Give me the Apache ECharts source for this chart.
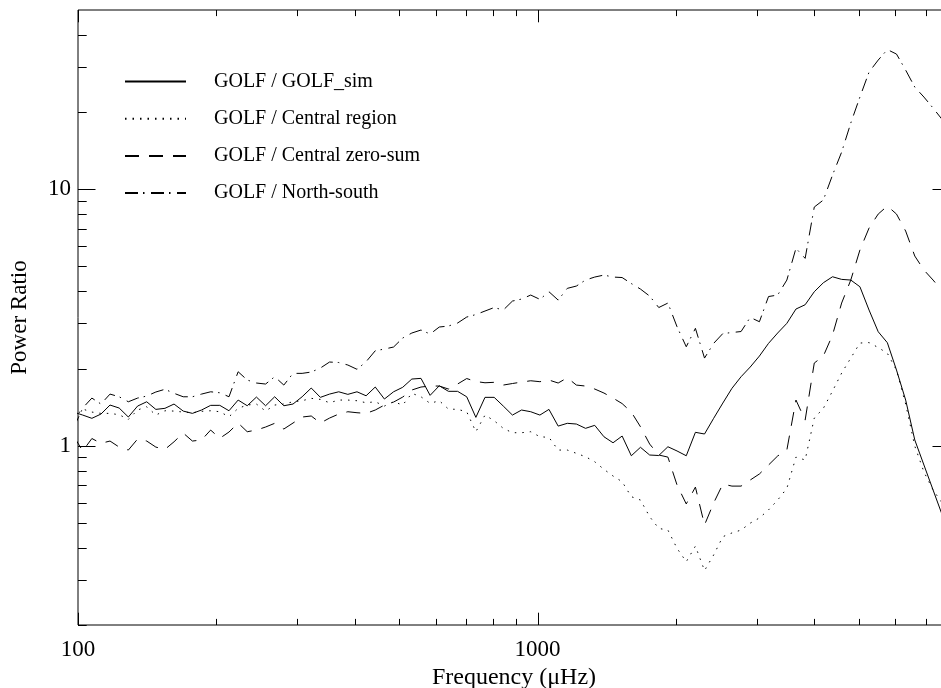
<!DOCTYPE html>
<html>
<head>
<meta charset="utf-8">
<title>GOLF power ratio</title>
<script src="https://cdn.jsdelivr.net/npm/echarts@6/dist/echarts.min.js"></script>
<style>
  html, body { margin: 0; padding: 0; background: #fff; }
  #chart { width: 941px; height: 688px; }
</style>
</head>
<body>
<div id="chart"></div>
<script>
// frequency bins (uHz), log spaced
var freq = [
  97.8, 102.4, 107.2, 112.2, 117.4, 122.9, 128.7, 134.8, 141.1, 147.7,
  154.6, 161.8, 169.4, 177.4, 185.7, 194.4, 203.5, 213.1, 223.1, 233.5,
  244.5, 256.0, 267.9, 280.5, 293.7, 307.4, 321.8, 336.9, 352.7, 369.3,
  386.6, 404.7, 423.6, 443.5, 464.3, 486.1, 508.9, 532.7, 557.7, 583.8,
  611.2, 639.9, 669.9, 701.3, 734.2, 768.6, 804.7, 842.4, 881.9, 923.2,
  966.5, 1012, 1059, 1109, 1161, 1215, 1272, 1332, 1395, 1460,
  1528, 1600, 1675, 1754, 1836, 1922, 2012, 2107, 2206, 2309,
  2417, 2531, 2649, 2773, 2903, 3040, 3182, 3331, 3488, 3651,
  3823, 4002, 4188, 4385, 4590, 4805, 5030, 5266, 5513, 5772,
  6042, 6326, 6622, 6933, 7258, 7598
];

// GOLF / GOLF_sim
var golfSim = [
  1.353, 1.317, 1.279, 1.329, 1.441, 1.403, 1.294, 1.428, 1.484, 1.386,
  1.399, 1.454, 1.365, 1.337, 1.378, 1.437, 1.437, 1.369, 1.507, 1.432,
  1.548, 1.432, 1.552, 1.432, 1.454, 1.552, 1.679, 1.544, 1.590, 1.623,
  1.586, 1.623, 1.566, 1.694, 1.521, 1.623, 1.690, 1.820, 1.831, 1.572,
  1.713, 1.630, 1.630, 1.552, 1.290, 1.544, 1.544, 1.428, 1.317, 1.378,
  1.357, 1.317, 1.386, 1.193, 1.223, 1.215, 1.169, 1.201, 1.084, 1.027,
  1.091, 0.914, 0.986, 0.920, 0.916, 0.991, 0.954, 0.914, 1.128, 1.111,
  1.279, 1.467, 1.674, 1.858, 2.027, 2.237, 2.507, 2.751, 3.001, 3.412,
  3.546, 3.985, 4.320, 4.559, 4.453, 4.426, 4.168, 3.381, 2.783, 2.521,
  1.973, 1.507, 1.053, 0.841, 0.672, 0.537
];

// GOLF / Central region
var centralRegion = [
  1.282, 1.390, 1.353, 1.337, 1.337, 1.321, 1.267, 1.378, 1.419, 1.317,
  1.369, 1.365, 1.353, 1.345, 1.362, 1.369, 1.357, 1.297, 1.399, 1.441,
  1.454, 1.365, 1.441, 1.454, 1.484, 1.498, 1.530, 1.516, 1.471, 1.507,
  1.507, 1.498, 1.471, 1.484, 1.428, 1.484, 1.441, 1.601, 1.552, 1.463,
  1.498, 1.390, 1.386, 1.357, 1.134, 1.317, 1.252, 1.169, 1.124, 1.124,
  1.134, 1.084, 1.078, 0.962, 0.962, 0.934, 0.906, 0.866, 0.809, 0.762,
  0.724, 0.633, 0.614, 0.529, 0.476, 0.469, 0.398, 0.353, 0.406, 0.326,
  0.375, 0.442, 0.457, 0.469, 0.499, 0.523, 0.562, 0.614, 0.682, 0.903,
  0.880, 1.282, 1.399, 1.634, 1.920, 2.197, 2.514, 2.525, 2.415, 2.293,
  1.973, 1.454, 0.997, 0.790, 0.672, 0.598
];

// GOLF / Central zero-sum
var centralZeroSum = [
  1.091, 0.954, 1.067, 1.022, 1.043, 0.988, 0.962, 1.062, 1.043, 0.988,
  0.968, 1.036, 1.121, 1.043, 1.053, 1.151, 1.069, 1.131, 1.226, 1.134,
  1.151, 1.183, 1.223, 1.162, 1.226, 1.294, 1.306, 1.226, 1.282, 1.329,
  1.357, 1.345, 1.337, 1.378, 1.441, 1.480, 1.548, 1.649, 1.694, 1.709,
  1.709, 1.664, 1.740, 1.828, 1.780, 1.760, 1.767, 1.724, 1.748, 1.771,
  1.792, 1.777, 1.804, 1.756, 1.841, 1.724, 1.709, 1.664, 1.605, 1.534,
  1.460, 1.353, 1.186, 1.015, 0.920, 0.903, 0.703, 0.593, 0.690, 0.491,
  0.598, 0.709, 0.696, 0.696, 0.735, 0.776, 0.841, 0.912, 0.962, 1.507,
  1.259, 2.101, 2.237, 2.702, 3.600, 4.426, 5.794, 7.060, 8.005, 8.603,
  8.005, 6.871, 5.491, 4.842, 4.426, 4.010
];

// GOLF / North-south
var northSouth = [
  1.172, 1.403, 1.534, 1.454, 1.590, 1.552, 1.484, 1.534, 1.562, 1.620,
  1.660, 1.601, 1.552, 1.552, 1.590, 1.623, 1.609, 1.552, 1.943, 1.804,
  1.756, 1.740, 1.858, 1.724, 1.915, 1.915, 1.938, 2.009, 2.120, 2.111,
  2.064, 1.986, 2.126, 2.346, 2.382, 2.426, 2.630, 2.751, 2.826, 2.726,
  2.903, 2.929, 3.009, 3.175, 3.247, 3.351, 3.458, 3.381, 3.665, 3.732,
  3.868, 3.722, 3.985, 3.698, 4.108, 4.194, 4.426, 4.547, 4.629, 4.547,
  4.527, 4.289, 4.082, 3.833, 3.458, 3.600, 2.910, 2.432, 2.869, 2.197,
  2.507, 2.738, 2.763, 2.788, 3.166, 3.044, 3.817, 3.868, 4.426, 5.884,
  5.378, 8.524, 9.077, 11.36, 13.96, 18.12, 22.88, 28.64, 31.90, 35.05,
  33.66, 29.15, 25.02, 22.88, 20.73, 18.69
];

var seriesNames = ['GOLF / GOLF_sim', 'GOLF / Central region', 'GOLF / Central zero-sum', 'GOLF / North-south'];

// axis ranges and ticks
var xMin = 100, xMax = 7900;
var yMin = 0.2, yMax = 50;
var xMajorTicks = [100, 1000];
var xMinorTicks = [200, 300, 400, 500, 600, 700, 800, 900, 2000, 3000, 4000, 5000, 6000, 7000];
var yMajorTicks = [1, 10];
var yMinorTicks = [0.2, 0.3, 0.4, 0.5, 0.6, 0.7, 0.8, 0.9, 2, 3, 4, 5, 6, 7, 8, 9, 20, 30, 40];

var FONT = 'Liberation Serif';

function pairs(ys) {
  return ys.map(function (y, i) { return [freq[i], y]; });
}

// only label whole decades
function decadeLabel(v) {
  var l = Math.log(v) / Math.LN10;
  return Math.abs(l - Math.round(l)) < 1e-6 ? String(Math.round(v * 1000) / 1000) : '';
}

function lineSeries(name, ys, dash) {
  return {
    name: name,
    type: 'line',
    data: pairs(ys),
    symbol: 'none',
    lineStyle: { color: '#000', width: 1, type: dash, cap: 'butt' },
    itemStyle: { color: '#000' }
  };
}

var option = {
  animation: false,
  backgroundColor: '#fff',
  textStyle: { fontFamily: FONT, color: '#000' },
  grid: {
    left: 78, top: 10, right: -9, bottom: 63,
    outerBoundsMode: 'none',
    show: true, borderColor: '#000', borderWidth: 1, backgroundColor: 'transparent'
  },
  legend: {
    orient: 'vertical',
    left: 124, top: 71.5, padding: 0,
    itemWidth: 61, itemHeight: 14, itemGap: 17.2,
    itemStyle: { opacity: 0 },
    textStyle: { fontFamily: FONT, fontSize: 20, color: '#000', padding: [0, 0, 0, 23] },
    data: seriesNames
  },
  xAxis: {
    type: 'log', logBase: 10, min: xMin, max: xMax,
    name: 'Frequency (\u03bcHz)',
    nameLocation: 'middle', nameGap: 31,
    nameTextStyle: { fontFamily: FONT, fontSize: 24, color: '#000' },
    axisLine: { show: false },
    axisTick: { show: false },
    splitLine: { show: false },
    axisLabel: { fontFamily: FONT, fontSize: 23, color: '#000', margin: 13, formatter: decadeLabel }
  },
  yAxis: {
    type: 'log', logBase: 10, min: yMin, max: yMax,
    name: 'Power Ratio',
    nameLocation: 'middle', nameGap: 47,
    nameTextStyle: { fontFamily: FONT, fontSize: 23, color: '#000' },
    axisLine: { show: false },
    axisTick: { show: false },
    splitLine: { show: false },
    axisLabel: { fontFamily: FONT, fontSize: 23, color: '#000', margin: 7, formatter: decadeLabel }
  },
  series: [
    lineSeries(seriesNames[0], golfSim, 'solid'),
    lineSeries(seriesNames[1], centralRegion, [1.5, 6]),
    lineSeries(seriesNames[2], centralZeroSum, [14, 10]),
    lineSeries(seriesNames[3], northSouth, [13, 5, 1.5, 6.5])
  ]
};

var chart = echarts.init(document.getElementById('chart'));
chart.setOption(option);

// tick marks on all four sides, pointing inwards (IDL style)
function px(v) { return chart.convertToPixel({ xAxisIndex: 0 }, v); }
function py(v) { return chart.convertToPixel({ yAxisIndex: 0 }, v); }
var gl = px(xMin), gr = px(xMax), gt = py(yMax), gb = py(yMin);
var ticks = [];
function tick(x1, y1, x2, y2) {
  ticks.push({
    type: 'line', silent: true,
    shape: { x1: x1, y1: y1, x2: x2, y2: y2 },
    style: { stroke: '#000', lineWidth: 1 }
  });
}
function xTicks(list, len) {
  list.forEach(function (v) {
    var x = Math.round(px(v)) + 0.5;
    tick(x, gb, x, gb - len);
    tick(x, gt, x, gt + len);
  });
}
function yTicks(list, len) {
  list.forEach(function (v) {
    var y = Math.round(py(v)) + 0.5;
    tick(gl, y, gl + len, y);
    tick(gr, y, gr - len, y);
  });
}
xTicks(xMajorTicks, 12.3);
xTicks(xMinorTicks, 6.1);
yTicks(yMajorTicks, 17.5);
yTicks(yMinorTicks, 8.7);
chart.setOption({ graphic: { elements: ticks } });
</script>
</body>
</html>
